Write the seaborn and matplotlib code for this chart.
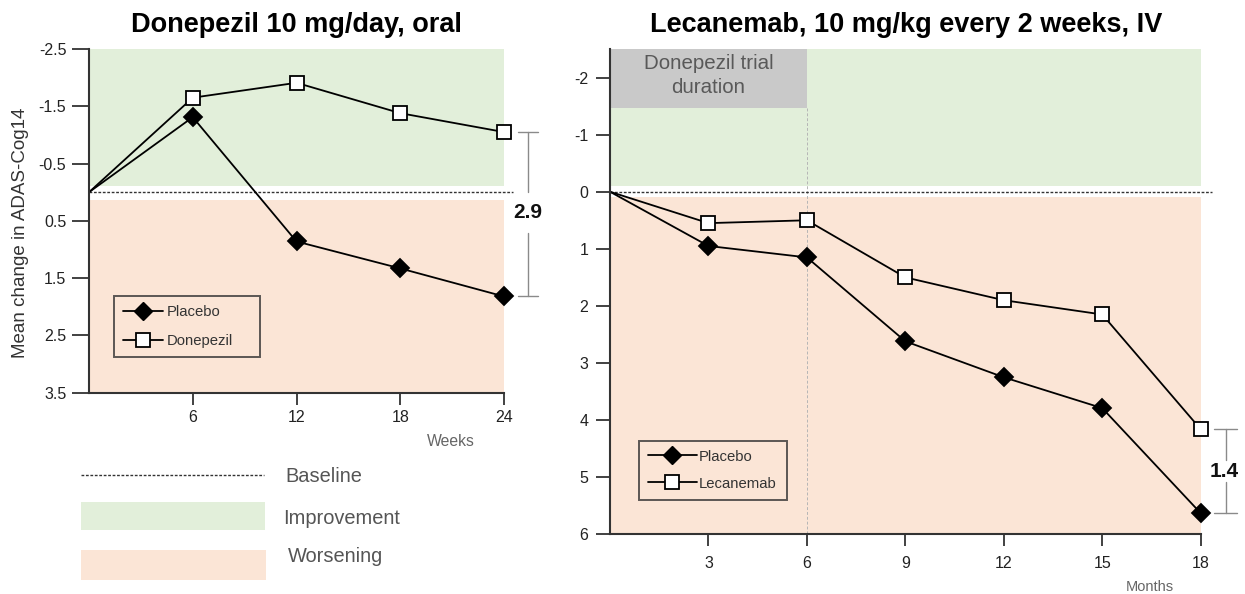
import matplotlib
matplotlib.use("Agg")
import matplotlib.pyplot as plt
from matplotlib import font_manager
from matplotlib.lines import Line2D
from matplotlib.patches import Rectangle
import seaborn as sns

# ---------------- data ----------------
weeks = [0, 6, 12, 18, 24]
placebo_donepezil_trial = [0, -1.31, 0.86, 1.33, 1.82]
donepezil = [0, -1.65, -1.91, -1.38, -1.05]

months = [0, 3, 6, 9, 12, 15, 18]
placebo_lecanemab_trial = [0, 0.95, 1.15, 2.62, 3.25, 3.79, 5.63]
lecanemab = [0, 0.55, 0.50, 1.50, 1.90, 2.15, 4.16]

left_yticks = [-2.5, -1.5, -0.5, 0.5, 1.5, 2.5, 3.5]
left_xticks = [6, 12, 18, 24]
right_yticks = [-2, -1, 0, 1, 2, 3, 4, 5, 6]
right_xticks = [3, 6, 9, 12, 15, 18]
diff_left_label = "2.9"
diff_right_label = "1.4"
donepezil_trial_end_month = 6

# ---------------- style ----------------
sns.set_style("ticks")
plt.rcParams["font.family"] = ["Liberation Sans", "DejaVu Sans"]
names = {f.name for f in font_manager.fontManager.ttflist}
if "Liberation Sans Narrow" in names:
    title_family, title_size = ["Liberation Sans Narrow", "Liberation Sans"], 23
else:
    title_family, title_size = ["Liberation Sans", "DejaVu Sans"], 19.5

GREEN = "#E2EFDA"
PINK = "#FBE5D6"
GRAY_BOX = "#C9C9C9"
DARK = "#333333"

W, H = 1245, 594
fig = plt.figure(figsize=(W / 100, H / 100), dpi=100)


def fx(px):
    return px / W


def fy(py):
    return 1 - py / H


ax1 = fig.add_axes([fx(89), fy(392.7), fx(504 - 89), (392.7 - 49) / H])
ax2 = fig.add_axes([fx(610), fy(534.3), fx(1200.7 - 610), (534.3 - 49) / H])

line_kw = dict(color="black", lw=1.3, markeredgecolor="black",
               markeredgewidth=1.3, clip_on=False, legend=False, zorder=5)


def style_axis(ax, xt, yt, ylim, xlim, ytick_len, xpad, ypad):
    ax.set_xlim(*xlim)
    ax.set_ylim(*ylim)
    ax.set_xticks(xt)
    ax.set_yticks(yt)
    ax.set_yticklabels([f"{v:g}" for v in yt])
    for s in ["top", "right"]:
        ax.spines[s].set_visible(False)
    for s in ["left", "bottom"]:
        ax.spines[s].set_linewidth(1.5)
        ax.spines[s].set_color(DARK)
        ax.spines[s].set_zorder(6)
    ax.tick_params(axis="y", left=True, length=ytick_len, width=1.3, color=DARK,
                   pad=ypad, labelsize=11.5, labelcolor="#222222")
    ax.tick_params(axis="x", bottom=True, length=8.3, width=1.3, color=DARK,
                   pad=xpad, labelsize=11.5, labelcolor="#222222")
    ax.set_xlabel("")
    ax.set_ylabel("")
    ax.patch.set_alpha(0)


# ---------------- left panel ----------------
ylim1 = (3.5, -2.5)
ax1.axhspan(ylim1[1], -0.1, color=GREEN, zorder=0, lw=0)
ax1.axhspan(0.13, ylim1[0], color=PINK, zorder=0, lw=0)
ax1.plot([0, weeks[-1] + 0.5], [0, 0], ls=(0, (2, 1.2)), lw=1.0, color=DARK,
         clip_on=False, zorder=3)
sns.lineplot(x=weeks, y=placebo_donepezil_trial, ax=ax1, marker="D", markersize=9.5,
             markerfacecolor="black", markevery=list(range(1, len(weeks))), **line_kw)
sns.lineplot(x=weeks, y=donepezil, ax=ax1, marker="s", markersize=9.5,
             markerfacecolor="white", markevery=list(range(1, len(weeks))), **line_kw)
style_axis(ax1, left_xticks, left_yticks, ylim1, (0, 24), 12, 4, 4.3)
ax1.set_ylabel("Mean change in ADAS-Cog14", fontsize=13.5, color=DARK)
ax1.yaxis.set_label_coords(-0.145, 0.465)

# bracket left
bx = 25.37
top_v, bot_v = donepezil[-1], placebo_donepezil_trial[-1]
bk = dict(color="#8a8a8a", lw=1.0, clip_on=False)
ax1.plot([bx, bx], [top_v, 0.0], **bk)
ax1.plot([bx, bx], [0.72, bot_v], **bk)
ax1.plot([bx - 0.55, bx + 0.6], [top_v, top_v], **bk)
ax1.plot([bx - 0.55, bx + 0.6], [bot_v, bot_v], **bk)
ax1.text(bx, 0.36, diff_left_label, ha="center", va="center", fontsize=15,
         fontweight="bold", color="#111111", clip_on=False)

leg1_handles = [
    Line2D([], [], color="black", lw=1.3, marker="D", markersize=9.5,
           markerfacecolor="black", markeredgecolor="black"),
    Line2D([], [], color="black", lw=1.3, marker="s", markersize=9.5,
           markerfacecolor="white", markeredgecolor="black", markeredgewidth=1.3),
]
leg1 = ax1.legend(leg1_handles, ["Placebo", "Donepezil"], loc="upper left",
                  bbox_to_anchor=(fx(113.6), fy(359), fx(146), 63 / H),
                  bbox_transform=fig.transFigure, mode="expand",
                  fontsize=10.7, labelcolor=DARK, frameon=True, fancybox=False,
                  borderpad=0.6, labelspacing=1.0, handlelength=2.75,
                  handletextpad=0.2, borderaxespad=0)
leg1.get_frame().set_edgecolor(DARK)
leg1.get_frame().set_linewidth(1.4)
leg1.get_frame().set_facecolor("none")

fig.text(fx(450.7), fy(441.7), "Weeks", ha="center", va="center",
         fontsize=11.3, color="#666666")

# ---------------- right panel ----------------
ylim2 = (6, -2.5)
ax2.axhspan(ylim2[1], -0.1, color=GREEN, zorder=0, lw=0)
ax2.axhspan(0.1, ylim2[0], color=PINK, zorder=0, lw=0)
box_bottom = -1.46
ax2.fill_between([0, donepezil_trial_end_month], ylim2[1], box_bottom,
                 color=GRAY_BOX, lw=0, zorder=1)
ax2.text(donepezil_trial_end_month / 2, -2.03, "Donepezil trial\nduration",
         ha="center", va="center", fontsize=14.8, color="#595959",
         linespacing=1.35, zorder=2)
ax2.plot([donepezil_trial_end_month] * 2, [box_bottom, ylim2[0]],
         ls=(0, (3, 2)), lw=0.7, color="#b5b5b5", zorder=1)
ax2.plot([0, months[-1] + 0.35], [0, 0], ls=(0, (2, 1.2)), lw=1.0, color=DARK,
         clip_on=False, zorder=3)
sns.lineplot(x=months, y=placebo_lecanemab_trial, ax=ax2, marker="D", markersize=9.5,
             markerfacecolor="black", markevery=list(range(1, len(months))), **line_kw)
sns.lineplot(x=months, y=lecanemab, ax=ax2, marker="s", markersize=9.5,
             markerfacecolor="white", markevery=list(range(1, len(months))), **line_kw)
style_axis(ax2, right_xticks, right_yticks, ylim2, (0, 18), 10, 7, 5.5)

bx2 = 18.77
top2, bot2 = lecanemab[-1], placebo_lecanemab_trial[-1]
ax2.plot([bx2, bx2], [top2, 4.69], **bk)
ax2.plot([bx2, bx2], [5.09, bot2], **bk)
ax2.plot([bx2 - 0.37, bx2 + 0.33], [top2, top2], **bk)
ax2.plot([bx2 - 0.37, bx2 + 0.33], [bot2, bot2], **bk)
ax2.text(bx2 - 0.05, 4.9, diff_right_label, ha="center", va="center", fontsize=15,
         fontweight="bold", color="#111111", clip_on=False)

leg2_handles = [
    Line2D([], [], color="black", lw=1.3, marker="D", markersize=9.5,
           markerfacecolor="black", markeredgecolor="black"),
    Line2D([], [], color="black", lw=1.3, marker="s", markersize=9.5,
           markerfacecolor="white", markeredgecolor="black", markeredgewidth=1.3),
]
leg2 = ax2.legend(leg2_handles, ["Placebo", "Lecanemab"], loc="upper left",
                  bbox_to_anchor=(fx(639), fy(503.3), fx(147.7), 62.6 / H),
                  bbox_transform=fig.transFigure, mode="expand",
                  fontsize=10.7, labelcolor=DARK, frameon=True, fancybox=False,
                  borderpad=0.6, labelspacing=0.88, handlelength=3.3,
                  handletextpad=0.1, borderaxespad=0)
leg2.get_frame().set_edgecolor(DARK)
leg2.get_frame().set_linewidth(1.4)
leg2.get_frame().set_facecolor("none")

fig.text(fx(1150), fy(587), "Months", ha="center", va="center",
         fontsize=10.5, color="#666666")

# ---------------- titles ----------------
fig.text(fx(296), fy(25), "Donepezil 10 mg/day, oral", ha="center", va="center",
         fontsize=title_size, fontweight="bold", family=title_family, color="black")
fig.text(fx(906), fy(25), "Lecanemab, 10 mg/kg every 2 weeks, IV", ha="center",
         va="center", fontsize=title_size, fontweight="bold", family=title_family,
         color="black")

# ---------------- bottom key ----------------
fig.add_artist(Line2D([fx(81), fx(264)], [fy(475), fy(475)], ls=(0, (2, 1.2)),
                      lw=1.0, color=DARK, transform=fig.transFigure))
fig.add_artist(Rectangle((fx(81), fy(530)), fx(184), 28.3 / H, color=GREEN,
                         transform=fig.transFigure, lw=0))
fig.add_artist(Rectangle((fx(81), fy(580)), fx(185), 30 / H, color=PINK,
                         transform=fig.transFigure, lw=0))
key_kw = dict(ha="left", va="center", fontsize=14.4, color="#555555")
fig.text(fx(285), fy(476.7), "Baseline", **key_kw)
fig.text(fx(283), fy(518), "Improvement", **key_kw)
fig.text(fx(288), fy(556.7), "Worsening", **key_kw)

fig.savefig("out.png", dpi=100)
